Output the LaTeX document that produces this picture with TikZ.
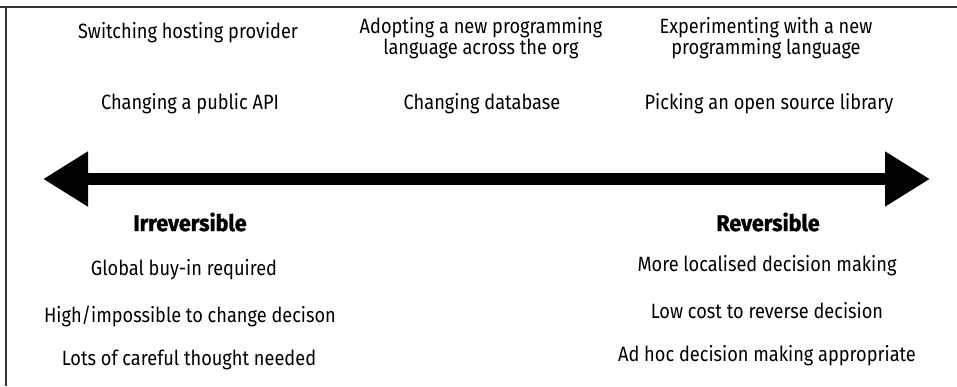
\documentclass[tikz,border=0pt]{standalone}
\usepackage{fontspec}
\setmainfont{Fira Sans}[FakeStretch=0.88]
\newfontfamily\headfont{Fira Sans}[FakeStretch=0.95]
\usetikzlibrary{arrows.meta}

\tikzset{
  item/.style={font=\fontsize{15.5}{15.75}\selectfont, align=center, inner sep=0pt},
  heading/.style={item, font=\headfont\fontsize{17}{18}\selectfont\bfseries\addfontfeature{FakeBold=1.2}},
  frame/.style={draw=black!80, line width=1.1pt},
}

\begin{document}
\begin{tikzpicture}[x=0.75pt, y=-0.75pt]
    \useasboundingbox (0,0) rectangle (957,386);

    \draw[frame] (0,7) -- (957,7);
    \draw[frame] (6,7) -- (6,386);

    % examples above the scale
    \node[item] (host) at (188,33) {Switching hosting provider};
    \node[item] (api) at (190,104) {Changing a public API};
    \node[item] (lang) at (481,38) {Adopting a new programming\\language across the org};
    \node[item] (db) at (482,104) {Changing database};
    \node[item] (exp) at (766,38) {Experimenting with a new\\programming language};
    \node[item] (lib) at (769,104) {Picking an open source library};

    % the scale
    \coordinate (irr) at (43,179);
    \coordinate (rev) at (930,179);
    \draw[line width=9pt, {Triangle[length=33.75pt 0 0, width=39pt 0 0]}-{Triangle[length=33.75pt 0 0, width=39pt 0 0]}] (irr) -- (rev);

    % below the scale
    \node[heading] (irrtitle) at (190,222) {Irreversible};
    \node[item] (global) at (184,270) {Global buy-in required};
    \node[item] (high) at (190,316) {High/impossible to change decison};
    \node[item] (lots) at (189,360) {Lots of careful thought needed};

    \node[heading] (revtitle) at (768,222) {Reversible};
    \node[item] (local) at (767,266) {More localised decision making};
    \node[item] (cost) at (767,311) {Low cost to reverse decision};
    \node[item] (adhoc) at (767,356) {Ad hoc decision making appropriate};
\end{tikzpicture}
\end{document}
